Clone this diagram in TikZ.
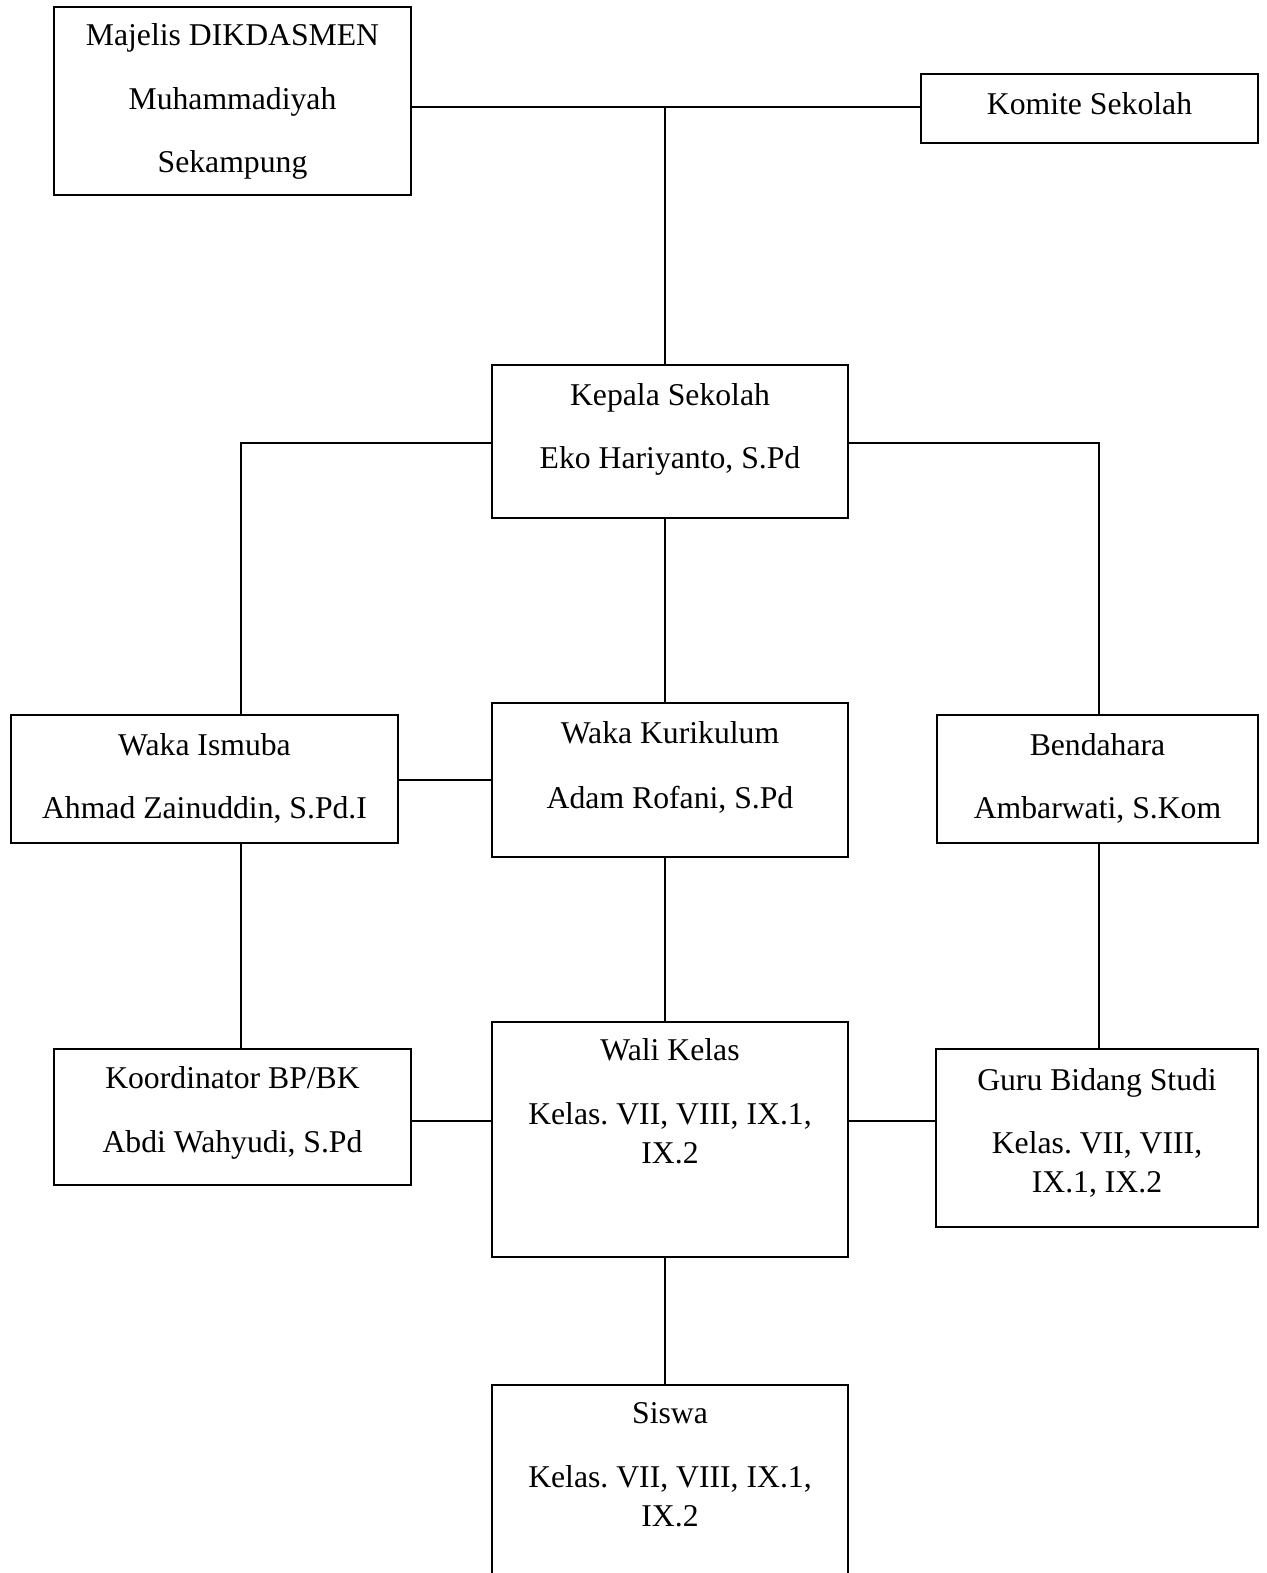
\documentclass[tikz,border=0pt]{standalone}
\usepackage{fontspec}
\setmainfont{Liberation Serif}
\frenchspacing
\begin{document}
\begin{tikzpicture}[x=1pt,y=-1pt,
  box/.style={draw,line width=2pt,rectangle,inner sep=0pt},
  lbl/.style={anchor=base,inner sep=0pt,font=\fontsize{31.7}{39}\selectfont},
  conn/.style={line width=2pt}]
\useasboundingbox (0,0) rectangle (1266,1573);
% boxes
\node[box,minimum width=357,minimum height=188] (maj) at (232.5,101) {};
\node[box,minimum width=337,minimum height=69] (kom) at (1089.5,108.5) {};
\node[box,minimum width=356,minimum height=153] (kep) at (670,441.5) {};
\node[box,minimum width=387,minimum height=128] (ism) at (204.5,779) {};
\node[box,minimum width=356,minimum height=154] (kur) at (670,780) {};
\node[box,minimum width=321,minimum height=128] (ben) at (1097.5,779) {};
\node[box,minimum width=357,minimum height=136] (koo) at (232.5,1117) {};
\node[box,minimum width=356,minimum height=235] (wal) at (670,1139.5) {};
\node[box,minimum width=322,minimum height=178] (gur) at (1097,1138) {};
\node[box,minimum width=356,minimum height=230] (sis) at (670,1500) {};
% texts
\node[lbl] (maj1) at (232.5,46) {Majelis DIKDASMEN};
\node[lbl] (maj2) at (232.5,110) {Muhammadiyah};
\node[lbl] (maj3) at (232.5,173) {Sekampung};
\node[lbl] (kom1) at (1089.5,115) {Komite Sekolah};
\node[lbl] (kep1) at (670,405) {Kepala Sekolah};
\node[lbl] (kep2) at (670,468) {Eko Hariyanto, S.Pd};
\node[lbl] (ism1) at (204.5,755) {Waka Ismuba};
\node[lbl] (ism2) at (204.5,818) {Ahmad Zainuddin, S.Pd.I};
\node[lbl] (kur1) at (670,743) {Waka Kurikulum};
\node[lbl] (kur2) at (670,808) {Adam Rofani, S.Pd};
\node[lbl] (ben1) at (1097.5,755) {Bendahara};
\node[lbl] (ben2) at (1097.5,818) {Ambarwati, S.Kom};
\node[lbl] (koo1) at (232.5,1088) {Koordinator BP/BK};
\node[lbl] (koo2) at (232.5,1152) {Abdi Wahyudi, S.Pd};
\node[lbl] (wal1) at (670,1060) {Wali Kelas};
\node[lbl] (wal2) at (670,1124) {Kelas. VII, VIII, IX.1,};
\node[lbl] (wal3) at (670,1163) {IX.2};
\node[lbl] (gur1) at (1097,1090) {Guru Bidang Studi};
\node[lbl] (gur2) at (1097,1153) {Kelas. VII, VIII,};
\node[lbl] (gur3) at (1097,1192) {IX.1, IX.2};
\node[lbl] (sis1) at (670,1423) {Siswa};
\node[lbl] (sis2) at (670,1487) {Kelas. VII, VIII, IX.1,};
\node[lbl] (sis3) at (670,1526) {IX.2};
% junction coordinates
\coordinate (jt) at (665,107);
\coordinate (jl) at (241,443);
\coordinate (jr) at (1099,443);
\coordinate (jm) at (0,780);
\coordinate (jw) at (665,1121);
% connectors
\draw[conn] (maj.east |- jt) -- (kom.west |- jt);
\draw[conn] (jt) -- (kep.north -| jt);
\draw[conn] (kep.west |- jl) -- (jl) -- (ism.north -| jl);
\draw[conn] (kep.east |- jr) -- (jr) -- (ben.north -| jr);
\draw[conn] (kep.south -| jt) -- (kur.north -| jt);
\draw[conn] (ism.east |- jm) -- (kur.west |- jm);
\draw[conn] (ism.south -| jl) -- (koo.north -| jl);
\draw[conn] (kur.south -| jt) -- (wal.north -| jt);
\draw[conn] (ben.south -| jr) -- (gur.north -| jr);
\draw[conn] (koo.east |- jw) -- (wal.west |- jw);
\draw[conn] (wal.east |- jw) -- (gur.west |- jw);
\draw[conn] (wal.south -| jt) -- (sis.north -| jt);
\end{tikzpicture}
\end{document}
